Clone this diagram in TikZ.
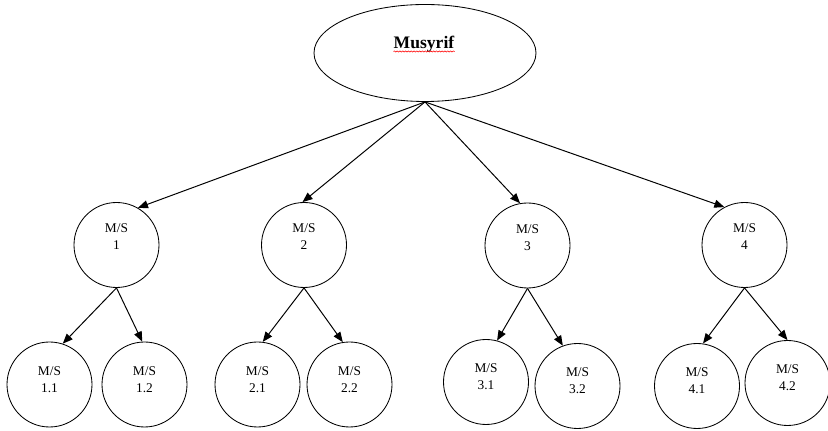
\documentclass[tikz,border=0pt]{standalone}
\usepackage{fontspec}
\setmainfont{Liberation Serif}
\usetikzlibrary{shapes.geometric,arrows.meta,decorations.pathmorphing}

\begin{document}
\begin{tikzpicture}[>={Triangle[length=0.25cm,width=0.2cm]}]
  \useasboundingbox (0,0) rectangle (20.7,10.775);

  \node[ellipse,draw,line width=0.6pt,minimum width=5.55cm,minimum height=2.425cm] (m) at (10.625,9.45) {};
  \node[inner sep=0pt,font=\fontsize{12.5}{15}\selectfont\bfseries] (mtext) at (10.6,9.675) {Musyrif};
  \draw[red,line width=0.4pt,decorate,decoration={snake,amplitude=0.4pt,segment length=2pt}]
    ([yshift=-0.08cm]mtext.base west) -- ([yshift=-0.08cm]mtext.base east);

  \begin{scope}[every node/.style={circle,draw,line width=0.6pt,minimum size=2.125cm}]
    \node (1)  at (2.9125,4.65)    {};
    \node (2)  at (7.6,4.65)       {};
    \node (3)  at (13.1875,4.6375) {};
    \node (4)  at (18.6125,4.65)   {};
    \node (11) at (1.2375,1.1625)  {};
    \node (12) at (3.6125,1.1625)  {};
    \node (21) at (6.4375,1.1625)  {};
    \node (22) at (8.7375,1.1625)  {};
    \node (31) at (12.15,1.225)    {};
    \node (32) at (14.4375,1.125)  {};
    \node (41) at (17.425,1.125)   {};
    \node (42) at (19.6875,1.2)    {};
  \end{scope}

  \begin{scope}[every node/.style={align=center,inner sep=0pt,font=\fontsize{9.5}{12}\selectfont}]
    \node (t1)  at ([yshift=0.2cm]1)   {M/S\\1};
    \node (t2)  at ([yshift=0.2cm]2)   {M/S\\2};
    \node (t3)  at ([yshift=0.2cm]3)   {M/S\\3};
    \node (t4)  at ([yshift=0.2cm]4)   {M/S\\4};
    \node (t11) at ([yshift=0.13cm]11) {M/S\\1.1};
    \node (t12) at ([yshift=0.13cm]12) {M/S\\1.2};
    \node (t21) at ([yshift=0.13cm]21) {M/S\\2.1};
    \node (t22) at ([yshift=0.13cm]22) {M/S\\2.2};
    \node (t31) at ([yshift=0.13cm]31) {M/S\\3.1};
    \node (t32) at ([yshift=0.13cm]32) {M/S\\3.2};
    \node (t41) at ([yshift=0.13cm]41) {M/S\\4.1};
    \node (t42) at ([yshift=0.13cm]42) {M/S\\4.2};
  \end{scope}

  \begin{scope}[every edge/.style={draw,->,line width=0.7pt}]
    \path (m.south) edge (1.60);
    \path (m.south) edge (2.92);
    \path (m.south) edge (3.100);
    \path (m.south) edge (4.118);
    \path (1.south) edge (11.72);
    \path (1.south) edge (12.93);
    \path (2.south) edge (21.83);
    \path (2.south) edge (22.99);
    \path (3.south) edge (31.75);
    \path (3.south) edge (32.110);
    \path (4.south) edge (41.82);
    \path (4.south) edge (42.90);
  \end{scope}

\end{tikzpicture}
\end{document}
